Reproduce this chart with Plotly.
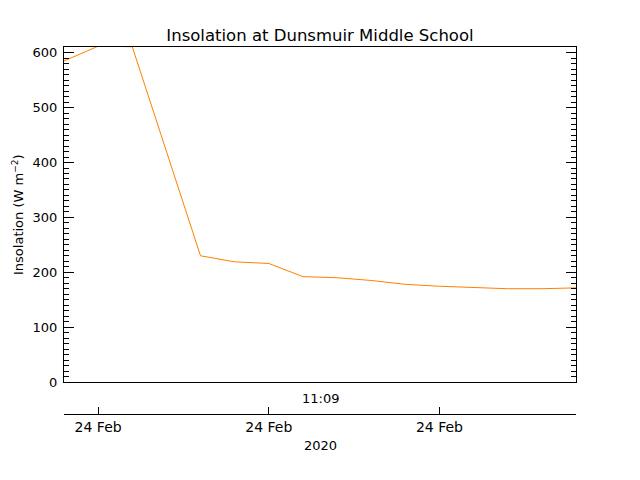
import plotly.graph_objects as go

times = ["2020-02-24 11:02", "2020-02-24 11:03", "2020-02-24 11:04", "2020-02-24 11:05",
         "2020-02-24 11:06", "2020-02-24 11:07", "2020-02-24 11:08", "2020-02-24 11:09",
         "2020-02-24 11:10", "2020-02-24 11:11", "2020-02-24 11:12", "2020-02-24 11:13",
         "2020-02-24 11:14", "2020-02-24 11:15", "2020-02-24 11:16", "2020-02-24 11:17"]
insolation = [585, 612, 611, 420, 230, 219, 216, 192, 190, 185, 178, 174.5, 172, 170, 170, 171.5]
tick_times = ["2020-02-24 11:03", "2020-02-24 11:08", "2020-02-24 11:13"]
tick_labels = ["24 Feb", "24 Feb", "24 Feb"]
y_ticks = [0, 100, 200, 300, 400, 500, 600]

FONT = "DejaVu Sans, sans-serif"
xr = [times[0], times[-1]]

fig = go.Figure()
fig.add_trace(go.Scatter(x=times, y=insolation, mode="lines",
                         line=dict(color="#ff8000", width=1), showlegend=False))
fig.add_trace(go.Scatter(x=times, y=insolation, xaxis="x2", mode="lines",
                         line=dict(color="rgba(0,0,0,0)", width=0), showlegend=False,
                         hoverinfo="skip"))

H = 367  # plot area height in px (from top margin to lower time axis)
fig.update_layout(
    width=640, height=480,
    margin=dict(l=64, r=64, t=47, b=66, autoexpand=False),
    paper_bgcolor="white", plot_bgcolor="white",
    font=dict(family=FONT, size=13, color="black"),
    title=dict(text="Insolation at Dunsmuir Middle School", x=0.5, xanchor="center",
               y=1 - 35 / 480, yanchor="middle", font=dict(size=16.5, family=FONT)),
    xaxis=dict(type="date", range=xr, showline=True, linecolor="black", linewidth=1,
               mirror=True, ticks="", showticklabels=False, showgrid=False, zeroline=False,
               anchor="y", automargin=False),
    xaxis2=dict(type="date", range=xr, overlaying="x", anchor="free", position=0,
                showline=True, linecolor="black", linewidth=1, ticks="inside", ticklen=7,
                tickcolor="black", tickvals=tick_times, ticktext=tick_labels,
                showgrid=False, zeroline=False, tickfont=dict(size=14), automargin=False),
    yaxis=dict(domain=[32 / H, 1], range=[0, 610.5], showline=True, linecolor="black",
               linewidth=1, mirror="ticks", ticks="inside", ticklen=10, tickcolor="black",
               tickvals=y_ticks, showgrid=False, zeroline=False, automargin=False,
               ticklabelstandoff=3,
               minor=dict(dtick=10, ticks="inside", ticklen=5, tickcolor="black", showgrid=False),
               tickfont=dict(size=13)),
)

fig.add_annotation(text="Insolation (W m<sup>\u22122</sup>)", textangle=-90,
                   xref="paper", yref="paper", x=(18 - 64) / 512, y=(414 - 215) / H,
                   showarrow=False, xanchor="center", yanchor="middle",
                   font=dict(size=13, family=FONT))
fig.add_annotation(text="11:09", xref="paper", yref="paper", x=0.5, y=(414 - 398) / H,
                   showarrow=False, yanchor="middle", xanchor="center",
                   font=dict(size=13, family=FONT))
fig.add_annotation(text="2020", xref="paper", yref="paper", x=0.5, y=(414 - 445) / H,
                   showarrow=False, yanchor="middle", xanchor="center",
                   font=dict(size=13, family=FONT))

fig.write_html("out.html", config={"displayModeBar": False},
               post_script="document.body.style.margin='0';")
